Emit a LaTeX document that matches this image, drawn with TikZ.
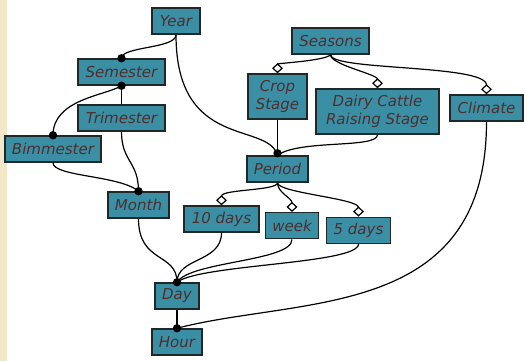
\documentclass[tikz,border=0pt]{standalone}
\usepackage{fontspec}
\setmainfont{DejaVu Sans}
\usetikzlibrary{arrows.meta}
\definecolor{boxfill}{RGB}{58,143,165}
\definecolor{boxtext}{RGB}{78,46,46}
\definecolor{boxline}{RGB}{30,40,40}
\definecolor{margin}{RGB}{242,231,199}

\begin{document}
\begin{tikzpicture}[x=1pt,y=-1pt,
  concept/.style={draw=boxline, line width=1.5pt, fill=boxfill, text=boxtext,
    font=\fontsize{15}{17.5}\selectfont\itshape, inner sep=0pt, align=center},
  link/.style={line width=1.2pt},
  part/.style={link, -{Diamond[open,length=10pt,width=11pt]}},
  joint/.style={fill=black}]

\useasboundingbox (0,0) rectangle (525,361);
\fill[white] (0,0) rectangle (525,361);
\fill[margin] (0,0) rectangle (7,361);

% concepts
\node[concept, minimum width=48pt, minimum height=26pt]  (year)   at (176,21)    {Year};
\node[concept, minimum width=87pt, minimum height=26pt]  (sem)    at (121.5,72)  {Semester};
\node[concept, minimum width=87pt, minimum height=26pt]  (tri)    at (121.5,118) {Trimester};
\node[concept, minimum width=96pt, minimum height=26pt]  (bim)    at (53,149)    {Bimmester};
\node[concept, minimum width=61pt, minimum height=26pt]  (month)  at (138.5,205) {Month};
\node[concept, minimum width=77pt, minimum height=26pt]  (seas)   at (330.5,41)  {Seasons};
\node[concept, minimum width=59pt, minimum height=45pt]  (crop)   at (277.5,96.5) {Crop\\Stage};
\node[concept, minimum width=123pt, minimum height=45pt] (dairy)  at (377.5,111.5) {Dairy Cattle\\Raising Stage};
\node[concept, minimum width=73pt, minimum height=26pt]  (clim)   at (486.5,108) {Climate};
\node[concept, minimum width=61pt, minimum height=26pt]  (period) at (277.5,169) {Period};
\node[concept, minimum width=75pt, minimum height=26pt]  (ten)    at (221.5,219) {10 days};
\node[concept, minimum width=53pt, minimum height=26pt]  (week)   at (292,225.7) {week};
\node[concept, minimum width=64pt, minimum height=26pt]  (five)   at (358.5,230.3) {5 days};
\node[concept, minimum width=44pt, minimum height=26pt]  (day)    at (177,296)   {Day};
\node[concept, minimum width=50pt, minimum height=26pt]  (hour)   at (177,342)   {Hour};

% calendar hierarchy
\draw[link] (year.south) .. controls +(0,14) and +(0,-12) .. (sem.north);
\draw[link] (year.south) .. controls +(0,116) and +(-9.5,-34) .. (period.north);
\draw[link] (sem.south) .. controls +(-16.5,10) and +(0,-36) .. (bim.north);
\draw[link] (sem.south) -- (tri.north);
\draw[link] (tri.south) .. controls +(0,30) and +(0,-30) .. (month.north);
\draw[link] (bim.south) .. controls +(0,14) and +(-18.5,-16) .. (month.north);
\draw[link] (month.south) .. controls +(0,45) and +(0,-30) .. (day.north);
\draw[link] (ten.south) .. controls +(0,30) and +(0,-25) .. (day.north);
\draw[link] (week.south) .. controls +(0,22) and +(13,-21) .. (day.north);
\draw[link] (five.south) .. controls +(0,20) and +(23,-18) .. (day.north);
\draw[link] (day.south) -- (hour.north);
\draw[link] (clim.south) .. controls +(0,199) and +(123,-32) .. (hour.north);

% seasonal stages
\draw[part] (seas.south) .. controls +(-5,6) and +(0,-10) .. (crop.north);
\draw[part] (seas.south) .. controls +(0,10) and +(0,-14) .. (dairy.north);
\draw[part] (seas.south) .. controls +(0,16) and +(0,-30) .. (clim.north);
\draw[link] (crop.south) -- (period.north);
\draw[link] (dairy.south) .. controls +(0,14) and +(22.5,-16) .. (period.north);

% subdivisions of a period
\draw[part] (period.south) .. controls +(0,8) and +(0,-16) .. (ten.north);
\draw[part] (period.south) .. controls +(0,10) and +(0,-14) .. (week.north);
\draw[part] (period.south) .. controls +(0,10) and +(0,-18) .. (five.north);

% junction dots
\foreach \n in {sem.north, sem.south, bim.north, month.north, day.north, hour.north}
  \fill[joint] (\n) circle (4.2pt);
\fill[joint] ([yshift=2pt]period.north) circle (4.2pt);
\end{tikzpicture}
\end{document}
